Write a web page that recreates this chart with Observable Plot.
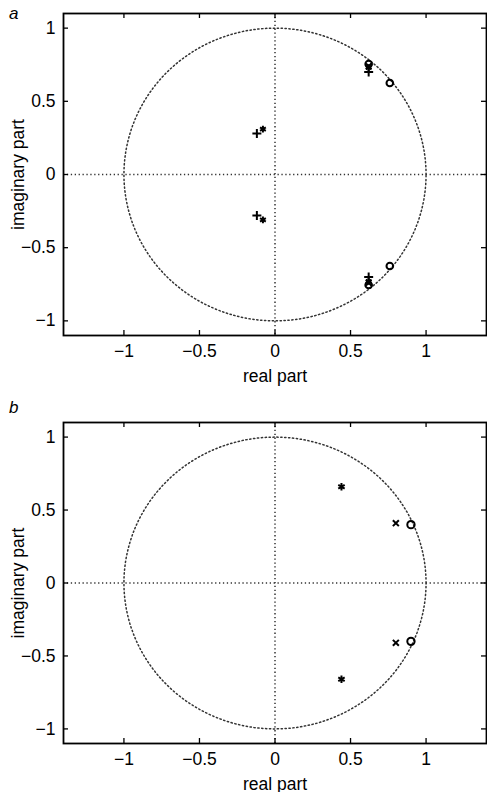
<!DOCTYPE html>
<html>
<head>
<meta charset="utf-8">
<script src="https://cdn.jsdelivr.net/npm/d3@7"></script>
<script src="https://cdn.jsdelivr.net/npm/@observablehq/plot@0.6"></script>
<style>
  html, body { margin: 0; padding: 0; background: #fff; }
  #wrap { position: relative; width: 487px; height: 792px; font-family: "Liberation Sans", Arial, sans-serif; }
  .panel { position: absolute; left: 0; width: 487px; height: 396px; }
  .tag { position: absolute; left: 9px; font-style: italic; font-size: 17px; line-height: 1; }
</style>
</head>
<body>
<div id="wrap">
  <div class="panel" id="pa" style="top:0"></div>
  <div class="panel" id="pb" style="top:396px"></div>
  <div class="tag" style="top:5px">a</div>
  <div class="tag" style="top:399px">b</div>
</div>
<script>
// ---- data ----
const xTicks = [-1, -0.5, 0, 0.5, 1];
const yTicks = [-1, -0.5, 0, 0.5, 1];

// panel a
const aPlusX  = [-0.12, -0.12, 0.62, 0.62];
const aPlusY  = [0.28, -0.28, 0.70, -0.70];
const aStarX  = [-0.08, -0.08, 0.62, 0.62];
const aStarY  = [0.31, -0.31, 0.73, -0.73];
const aTimesX = [0.62, 0.62];
const aTimesY = [0.74, -0.74];
const aCircX  = [0.62, 0.76, 0.76, 0.62];
const aCircY  = [0.755, 0.625, -0.625, -0.755];

// panel b
const bStarX  = [0.44, 0.44];
const bStarY  = [0.66, -0.66];
const bTimesX = [0.80, 0.80];
const bTimesY = [0.41, -0.41];
const bCircX  = [0.90, 0.90];
const bCircY  = [0.40, -0.40];

const fmt = d => d < 0 ? "\u2212" + (-d) : String(d);

function pts(xs, ys, symbol) { return xs.map((x, i) => ({x, y: ys[i], symbol})); }

// unit circle reference curve
const unitCircle = d3.range(0, 361, 2).map(a => ({x: Math.cos(a * Math.PI / 180), y: Math.sin(a * Math.PI / 180)}));

function panel(points, marginTop, marginBottom) {
  const W = 487, H = 396, mL = 63, mR = 1;
  const ph = H - marginTop - marginBottom, pw = W - mL - mR;
  const dotted = {stroke: "#333", strokeWidth: 1.5, strokeDasharray: "1.3,2.6"};
  const sizes = {plus: 4.0, asterisk: 4.4, times: 2.9, circle: 4.9};
  return Plot.plot({
    width: W, height: H, marginLeft: mL, marginRight: mR, marginTop, marginBottom,
    style: {fontFamily: "'Liberation Sans', Arial, sans-serif", fontSize: "17px", color: "#000", background: "#fff", overflow: "visible"},
    x: {domain: [-1.4, 1.4]},
    y: {domain: [-1.1, 1.1]},
    symbol: {type: "identity"},
    marks: [
      Plot.line(unitCircle, {x: "x", y: "y", ...dotted}),
      Plot.ruleX([0], dotted),
      Plot.ruleY([0], dotted),
      Plot.dot(points, {x: "x", y: "y", symbol: "symbol", r: d => sizes[d.symbol], stroke: "#000", strokeWidth: 2, fill: "none"}),
      // inward ticks on all four sides
      Plot.ruleX(xTicks, {insetTop: ph - 5, stroke: "#000", strokeWidth: 1.3}),
      Plot.ruleX(xTicks, {insetBottom: ph - 5, stroke: "#000", strokeWidth: 1.3}),
      Plot.ruleY(yTicks, {insetRight: pw - 5, stroke: "#000", strokeWidth: 1.3}),
      Plot.ruleY(yTicks, {insetLeft: pw - 5, stroke: "#000", strokeWidth: 1.3}),
      Plot.frame({stroke: "#000", strokeWidth: 1.8}),
      Plot.axisX(xTicks, {tickSize: 0, tickPadding: 9, tickFormat: fmt, fontSize: 17.5, label: "real part", labelArrow: "none", labelAnchor: "center", labelOffset: 46, fill: "#000"}),
      Plot.axisY(yTicks, {tickSize: 0, tickPadding: 8, tickFormat: fmt, fontSize: 17.5, label: "imaginary part", labelArrow: "none", labelAnchor: "center", labelOffset: 52, fill: "#000"})
    ]
  });
}

const pointsA = [
  ...pts(aPlusX, aPlusY, "plus"),
  ...pts(aStarX, aStarY, "asterisk"),
  ...pts(aTimesX, aTimesY, "times"),
  ...pts(aCircX, aCircY, "circle")
];
const pointsB = [
  ...pts(bStarX, bStarY, "asterisk"),
  ...pts(bTimesX, bTimesY, "times"),
  ...pts(bCircX, bCircY, "circle")
];

document.getElementById("pa").append(panel(pointsA, 13, 61));
document.getElementById("pb").append(panel(pointsB, 26, 49));
</script>
</body>
</html>
